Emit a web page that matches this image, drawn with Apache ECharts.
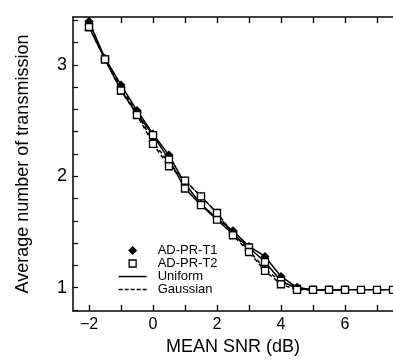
<!DOCTYPE html>
<html>
<head>
<meta charset="utf-8">
<script src="https://cdn.jsdelivr.net/npm/echarts@6/dist/echarts.min.js"></script>
<style>
html,body{margin:0;padding:0;background:#fff;}
#chart{width:393px;height:361px;}
</style>
</head>
<body>
<div id="chart"></div>
<script>
// SNR (dB) sample points
var snrGauss = [-2,-1.5,-1,-0.5,0,0.5,1,1.5,2,2.5,3,3.5,4,4.5,5,5.5,6,6.5,7,7.5];
var snrUniform = [-2,-1.5,-1,-0.5,0,0.5,1,1.5,2,2.5,3,3.5,4,4.5,5,5.5,6];

// Average number of transmissions
var t1Uniform = [3.39,3.06,2.82,2.59,2.38,2.19,1.93,1.75,1.62,1.51,1.37,1.28,1.10,1.00,0.98,0.98,0.98];
var t2Uniform = [3.34,3.05,2.77,2.56,2.37,2.15,1.89,1.74,1.61,1.48,1.36,1.23,1.06,0.99,0.98,0.98,0.98];
var t1Gauss = [3.39,3.05,2.80,2.57,2.31,2.12,1.96,1.82,1.67,1.49,1.33,1.17,1.05,1.00,0.98,0.98,0.98,0.98,0.98,0.98];
var t2Gauss = [3.34,3.05,2.77,2.55,2.29,2.09,1.96,1.82,1.67,1.47,1.32,1.15,1.03,0.98,0.98,0.98,0.98,0.98,0.98,0.98];

// Axis ticks / labels
var xTickValues = [-2,-1,0,1,2,3,4,5,6,7];
var xLabelValues = [-2,0,2,4,6];
var xTickLabels = ['\u22122','0','2','4','6'];
var yTickValues = [0.8,1.0,1.2,1.4,1.6,1.8,2.0,2.2,2.4,2.6,2.8,3.0,3.2,3.4];
var yLabelValues = [1,2,3];
var yTickLabels = ['1','2','3'];

function pairs(xs, ys){ return ys.map(function(v,i){ return [xs[i], v]; }); }

var FONT = '"Liberation Sans", Arial, Helvetica, sans-serif';

var chart = echarts.init(document.getElementById('chart'), null, {renderer:'canvas'});

function lineSeries(id, xs, ys, type){
  return {
    name: id, type: 'line', data: pairs(xs, ys), symbol: 'none',
    lineStyle: {color:'#000', width:1.5, type: type},
    itemStyle: {color:'#000'}, z: 2, animation:false
  };
}
function markSeries(name, xs, ys, sym){
  var filled = sym === 'diamond';
  return {
    name: name, type: 'scatter', data: pairs(xs, ys), symbol: sym,
    symbolSize: filled ? 9 : 7,
    itemStyle: filled ? {color:'#000', opacity:1} : {color:'#fff', borderColor:'#000', borderWidth:1.3, opacity:1},
    emphasis: {disabled:true},
    z: filled ? 3 : 4, animation:false
  };
}
function legendOnly(name){
  return {name: name, type: 'scatter', data: [], itemStyle:{color:'#000', opacity:1}};
}

// legend icon shapes (28 x 9 box)
var DIAMOND = 'path://M14,0L18.5,4.5L14,9L9.5,4.5Z M0,0L0,0 M28,9L28,9';
var SQUARE = 'path://M10.5,1H17.5V8H10.5Z M0,0L0,0 M28,9L28,9';
var SOLID = 'path://M0,3.8H28V5.3H0Z M0,0L0,0 M28,9L28,9';
var DASHED = 'path://M0,3.8H4V5.3H0Z M6,3.8H10V5.3H6Z M12,3.8H16V5.3H12Z M18,3.8H22V5.3H18Z M24,3.8H28V5.3H24Z M0,0L0,0 M28,9L28,9';

var option = {
  animation: false,
  backgroundColor: '#fff',
  textStyle: {fontFamily: FONT, color:'#000'},
  grid: {left: 73, top: 17, width: 324, height: 301, containLabel: false},
  legend: {
    orient: 'vertical', left: 118, top: 244, padding: 0,
    itemWidth: 28, itemHeight: 9, itemGap: 0,
    symbolKeepAspect: true,
    data: [
      {name:'AD-PR-T1', icon: DIAMOND, itemStyle:{color:'#000', borderWidth:0}},
      {name:'AD-PR-T2', icon: SQUARE, itemStyle:{color:'#fff', borderColor:'#000', borderWidth:1.3}},
      {name:'Uniform', icon: SOLID, itemStyle:{color:'#000', borderWidth:0}},
      {name:'Gaussian', icon: DASHED, itemStyle:{color:'#000', borderWidth:0}}
    ],
    textStyle: {fontFamily: FONT, fontSize: 13, color:'#000', lineHeight: 13, padding:[0,0,0,6]},
    selectedMode: false
  },
  xAxis: [{
    type: 'value', position: 'bottom', min: -2.5, max: 7.5,
    name: 'MEAN SNR (dB)', nameLocation: 'middle', nameGap: 27,
    nameTextStyle: {fontFamily: FONT, fontSize: 18, color:'#000'},
    axisLine: {show:true, onZero:false, lineStyle:{color:'#000', width:1.5}},
    axisTick: {show:true, inside:true, length:6, customValues: xTickValues, lineStyle:{color:'#000', width:1.3}},
    axisLabel: {show:true, margin:6, customValues: xLabelValues, fontFamily: FONT, fontSize:16, color:'#000',
      formatter: function(v){ var i = xLabelValues.indexOf(v); return i>=0 ? xTickLabels[i] : ''; }},
    splitLine: {show:false}
  },{
    type: 'value', position: 'top', min: -2.5, max: 7.5,
    axisLine: {show:true, onZero:false, lineStyle:{color:'#000', width:1.5}},
    axisTick: {show:true, inside:true, length:6, customValues: xTickValues, lineStyle:{color:'#000', width:1.3}},
    axisLabel: {show:false},
    splitLine: {show:false}
  }],
  yAxis: [{
    type: 'value', position: 'left', min: 0.79, max: 3.43,
    name: 'Average number of transmission', nameLocation: 'middle', nameGap: 41,
    nameTextStyle: {fontFamily: FONT, fontSize: 18, color:'#000'},
    axisLine: {show:true, onZero:false, lineStyle:{color:'#000', width:1.5}},
    axisTick: {show:true, inside:true, length:5, customValues: yTickValues, lineStyle:{color:'#000', width:1.2}},
    axisLabel: {show:true, margin:6, customValues: yLabelValues, fontFamily: FONT, fontSize:18, color:'#000',
      formatter: function(v){ var i = yLabelValues.indexOf(Math.round(v)); return i>=0 ? yTickLabels[i] : ''; }},
    splitLine: {show:false}
  }],
  series: [
    lineSeries('T1 Uniform', snrUniform, t1Uniform, 'solid'),
    lineSeries('T2 Uniform', snrUniform, t2Uniform, 'solid'),
    lineSeries('T1 Gaussian', snrGauss, t1Gauss, [4,3]),
    lineSeries('T2 Gaussian', snrGauss, t2Gauss, [4,3]),
    markSeries('AD-PR-T1', snrUniform, t1Uniform, 'diamond'),
    markSeries('AD-PR-T1', snrGauss.slice(0,14), t1Gauss.slice(0,14), 'diamond'),
    markSeries('AD-PR-T2', snrUniform, t2Uniform, 'rect'),
    markSeries('AD-PR-T2', snrGauss, t2Gauss, 'rect'),
    legendOnly('Uniform'),
    legendOnly('Gaussian')
  ]
};
chart.setOption(option);
</script>
</body>
</html>
